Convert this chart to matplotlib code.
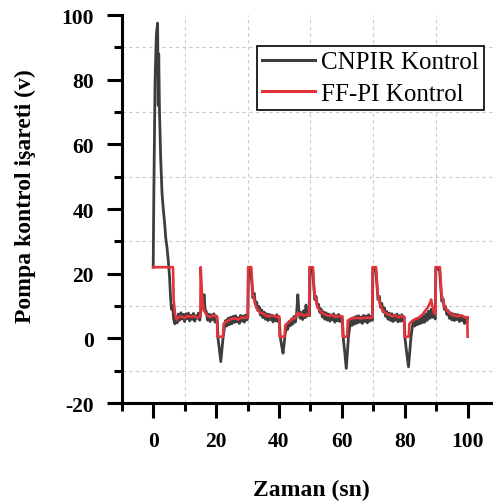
import numpy as np
import matplotlib
matplotlib.use("Agg")
import matplotlib.pyplot as plt
from matplotlib.ticker import FixedLocator

plt.rcParams['font.family'] = ['Liberation Serif', 'DejaVu Serif']
plt.rcParams['axes.unicode_minus'] = False

# CNPIR control signal (t [s], u [v])
cnpir = [(0, 22), (0.2, 45), (0.6, 80), (1.0, 94), (1.4, 97.5), (1.6, 72), (1.75, 88), (2.0, 70),
         (2.4, 55), (2.8, 45), (3.2, 40), (3.6, 36), (4.0, 31), (4.4, 28), (4.8, 24), (5.2, 19),
         (5.5, 13), (5.8, 9), (6.2, 10), (6.5, 6), (6.9, 4.5), (7.2, 6.5), (7.6, 4.8),
         (8.0, 7.5), (8.4, 5.6), (8.8, 7.9), (9.2, 6.0), (9.6, 7.4), (10.0, 5.2), (10.4, 7.6),
         (10.8, 6.1), (11.2, 7.8), (11.6, 5.4), (12.0, 7.1), (12.4, 5.9), (12.8, 7.7), (13.2, 5.3),
         (13.6, 7.0), (14.0, 6.2), (14.4, 7.8), (14.8, 5.6),
         (15.1, 8), (15.4, 10), (15.8, 11.5), (16.2, 13.5), (16.5, 9), (16.9, 8.2), (17.3, 5.6),
         (17.7, 7.5), (18.1, 5.2), (18.5, 7.3), (18.9, 5.8), (19.3, 7.6), (19.7, 5.0), (20.1, 6.9),
         (20.4, 5.5),
         (20.6, 0), (21.0, -3), (21.5, -7.2), (21.9, -3), (22.2, 0), (22.6, 3), (23.0, 5.5),
         (23.4, 3.8), (23.8, 6.2), (24.2, 4.2), (24.6, 6.5), (25.0, 4.5), (25.4, 6.8), (25.8, 4.9),
         (26.2, 7.0), (26.6, 5.1), (27.0, 6.4), (27.4, 4.6), (27.8, 7.1), (28.2, 5.3), (28.6, 6.9),
         (29.0, 5.0), (29.4, 7.2), (29.8, 5.7), (30.1, 6.5),
         (30.3, 22), (31.0, 21), (31.3, 18), (31.7, 12.5), (32.1, 14), (32.5, 10.5), (32.9, 11.2),
         (33.3, 8.6), (33.7, 9.8), (34.1, 7.2), (34.5, 8.8), (34.9, 6.4), (35.3, 8.1), (35.7, 5.9),
         (36.1, 7.6), (36.5, 5.5), (36.9, 7.4), (37.3, 5.8), (37.7, 7.2), (38.1, 5.1), (38.5, 6.8),
         (38.9, 5.4), (39.3, 7.3), (39.7, 5.2), (40.1, 6.2),
         (40.4, 0.5), (40.8, -2), (41.3, -4.6), (41.7, -1), (42.0, 1.5), (42.4, 3.5), (42.8, 2.8),
         (43.2, 5.2), (43.6, 3.9), (44.0, 6.0), (44.4, 4.4), (44.8, 6.8), (45.2, 5.0), (45.6, 7.5),
         (46.0, 13.5), (46.3, 9), (46.7, 6.2), (47.1, 8.0), (47.5, 5.8), (47.9, 8.6), (48.3, 6.4),
         (48.6, 10.3), (49.0, 6.9), (49.4, 8.2), (49.7, 7),
         (49.9, 22), (50.7, 21.5), (51.0, 17), (51.4, 12), (51.8, 13), (52.2, 9.8), (52.6, 10.5),
         (53.0, 8.0), (53.4, 9.1), (53.8, 6.6), (54.2, 8.2), (54.6, 5.9), (55.0, 7.9), (55.4, 5.6),
         (55.8, 7.5), (56.2, 5.3), (56.6, 7.3), (57.0, 5.7), (57.4, 7.6), (57.8, 5.0), (58.2, 7.0),
         (58.6, 5.4), (59.0, 7.4), (59.4, 5.2), (59.8, 6.8), (60.2, 5.5),
         (60.5, -0.5), (60.9, -4), (61.4, -9.3), (61.8, -4), (62.1, 0.5), (62.5, 3.5), (62.9, 5.5),
         (63.3, 4.0), (63.7, 6.4), (64.1, 4.4), (64.5, 6.8), (64.9, 4.7), (65.3, 7.0), (65.7, 5.0),
         (66.1, 6.6), (66.5, 4.6), (66.9, 7.1), (67.3, 5.2), (67.7, 6.9), (68.1, 4.8), (68.5, 7.3),
         (68.9, 5.3), (69.3, 6.8), (69.7, 5.6),
         (69.9, 22), (70.8, 21), (71.1, 17.5), (71.5, 12), (71.9, 13), (72.3, 9.6), (72.7, 10.8),
         (73.1, 8.2), (73.5, 9.4), (73.9, 6.8), (74.3, 8.3), (74.7, 5.9), (75.1, 7.8), (75.5, 5.5),
         (75.9, 7.6), (76.3, 5.2), (76.7, 7.2), (77.1, 5.6), (77.5, 7.5), (77.9, 5.1), (78.3, 7.0),
         (78.7, 5.3), (79.1, 7.3), (79.5, 5.4), (79.8, 6.5),
         (80.1, 0), (80.5, -3.5), (81.2, -8.8), (81.6, -4), (82.0, 0.5), (82.4, 3.5), (82.8, 5.2),
         (83.2, 3.8), (83.6, 6.0), (84.0, 4.2), (84.4, 6.3), (84.8, 4.5), (85.2, 6.5), (85.6, 4.8),
         (86.0, 7.0), (86.4, 5.0), (86.8, 7.6), (87.2, 5.6), (87.6, 8.4), (88.0, 6.2), (88.4, 9.0),
         (88.8, 6.5), (89.2, 7.8), (89.7, 6.0),
         (89.9, 22), (91.1, 21), (91.4, 16.5), (91.8, 11.5), (92.2, 12.2), (92.6, 9.0), (93.0, 9.8),
         (93.4, 7.4), (93.8, 8.6), (94.2, 6.2), (94.6, 7.9), (95.0, 5.7), (95.4, 7.6), (95.8, 5.5),
         (96.2, 7.4), (96.6, 5.8), (97.0, 7.3), (97.4, 5.2), (97.8, 7.0), (98.2, 5.5), (98.6, 6.8),
         (99.0, 4.6), (99.4, 6.2), (99.7, 4.8), (100, 6.3)]

# FF-PI control signal
ffpi = [(0, 22), (6.3, 22), (6.5, 12), (7.0, 7), (7.5, 5.8), (8, 6.5), (9, 6.8), (10, 6.3),
        (11, 7.0), (12, 6.6), (13, 6.9), (14, 6.4), (15.0, 6.8), (15.1, 22), (15.3, 18),
        (15.6, 12), (16.0, 9), (16.5, 8), (17, 7.2), (18, 6.6), (19, 7.0), (20.3, 6.8),
        (20.4, 0.5), (22.2, 0.5), (22.4, 4.5), (23, 5.0), (24, 5.6), (25, 6.0), (26, 6.2),
        (27, 5.8), (28, 6.5), (29, 6.3), (30.1, 6.6), (30.2, 22), (31.2, 22), (31.7, 13.5),
        (32.8, 9.4), (34, 8.0), (35, 7.6), (36, 7.0), (37, 6.8), (38, 7.1), (39, 6.6),
        (40.1, 6.8), (40.2, 0.5), (41.8, 0.5), (42.0, 4.0), (43, 5.0), (44, 5.8), (45, 6.2),
        (46, 8.0), (46.5, 7.2), (47, 7.6), (48, 7.0), (49, 7.4), (49.6, 7.0), (49.7, 22),
        (50.8, 22), (51.3, 13.5), (52.4, 9.4), (53.5, 8), (55, 7.2), (56, 6.9), (57, 7.2),
        (58, 6.6), (59, 6.9), (60.2, 6.8), (60.3, 0.5), (61.7, 0.5), (61.9, 5.5), (63, 6.2),
        (64, 6.3), (65, 6.3), (66, 6.2), (67, 6.3), (68, 6.4), (69, 6.3), (69.7, 6.4),
        (69.8, 22), (70.9, 22), (71.4, 13.5), (72.5, 9.4), (73.6, 8), (75, 7.3), (76, 6.8),
        (77, 7.1), (78, 6.5), (79, 6.9), (79.8, 6.7), (79.9, 0.5), (81.3, 0.5), (81.5, 4.5),
        (82.5, 5.5), (83.5, 6.0), (84.5, 6.4), (85.5, 7.2), (86.5, 8.5), (87.3, 9.5),
        (88.0, 10.8), (88.4, 12), (88.8, 10), (89.3, 8), (89.8, 7.5), (89.9, 22), (91.2, 22),
        (91.7, 13.5), (92.8, 9.4), (94, 8), (95, 7.3), (96, 7.0), (97, 6.8), (98, 7.1),
        (99, 6.5), (99.9, 6.6), (100, 0.5)]

labels = ['CNPIR Kontrol', 'FF-PI Kontrol']
x_major = [0, 20, 40, 60, 80, 100]
x_minor = [-10, 10, 30, 50, 70, 90]
y_major = [-20, 0, 20, 40, 60, 80, 100]
y_minor = [-10, 10, 30, 50, 70, 90]

c_t, c_u = np.array(cnpir).T
f_t, f_u = np.array(ffpi).T

fig = plt.figure(figsize=(4.93, 5.02), dpi=100)
ax = fig.add_axes([0.247, 0.1952, 0.7525, 0.7729])

ax.plot(c_t, c_u, color='#3d3d3d', lw=2.0, label=labels[0])
ax.plot(f_t, f_u, color='#e2343a', lw=1.9, label=labels[1])

ax.set_xlim(-10, 108)
ax.set_ylim(-20, 100)
ax.xaxis.set_major_locator(FixedLocator(x_major))
ax.xaxis.set_minor_locator(FixedLocator(x_minor))
ax.yaxis.set_major_locator(FixedLocator(y_major))
ax.yaxis.set_minor_locator(FixedLocator(y_minor))

ax.grid(which='minor', ls=(0, (3, 3)), color='#c9c9c9', lw=0.8)
ax.grid(which='major', visible=False)
ax.set_axisbelow(True)

for s in ['top', 'right']:
    ax.spines[s].set_visible(False)
for s in ['left', 'bottom']:
    ax.spines[s].set_linewidth(2.2)

ax.tick_params(which='major', direction='out', length=11, width=2.2, pad=9,
               labelsize=15.5)
ax.tick_params(which='minor', direction='out', length=6, width=2.2)
for lab in ax.get_xticklabels() + ax.get_yticklabels():
    lab.set_fontweight('bold')

ax.set_xlabel('Zaman (sn)', fontsize=17, fontweight='bold')
ax.set_ylabel('Pompa kontrol işareti (v)', fontsize=17, fontweight='bold')
ax.xaxis.label.set_va('center')
ax.yaxis.label.set_va('center')
ax.xaxis.set_label_coords(0.51, -0.222)
ax.yaxis.set_label_coords(-0.261, 0.535)

leg = fig.legend(loc='upper right', bbox_to_anchor=(0.9817, 0.9064), borderaxespad=0,
                 fancybox=False, framealpha=1, edgecolor='black', fontsize=18,
                 handlelength=2.1, handletextpad=0.25, borderpad=0.2, labelspacing=0.35)
leg.get_frame().set_linewidth(1.2)
for ln in leg.get_lines():
    ln.set_linewidth(2.2)

fig.savefig('out.png', dpi=100)
